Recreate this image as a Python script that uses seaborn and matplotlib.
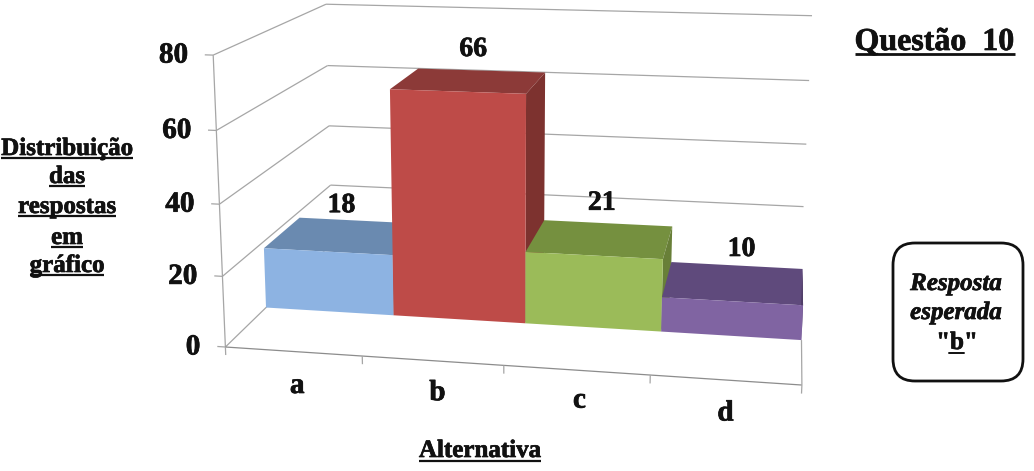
import numpy as np
import matplotlib
matplotlib.use("Agg")
import matplotlib.pyplot as plt
import matplotlib.patheffects as pe
from matplotlib.patches import FancyBboxPatch
from matplotlib.transforms import Transform
import seaborn as sns

# Dados do grafico
alternativas = ["a", "b", "c", "d"]
respostas = [18, 66, 21, 10]
valores_eixo = [0, 20, 40, 60, 80]
linhas_titulo_y = ["Distribuição", "das", "respostas", "em", "gráfico"]

# Cores das faces de cada barra
cor_frente = ["#8DB3E2", "#BE4B48", "#9BBB59", "#8064A2"]
cor_topo = ["#6A8AB0", "#8C3A38", "#75903F", "#5F4A7C"]
cor_lado = ["#587595", "#7D322F", "#687F38", "#4F3D67"]

LARGURA, ALTURA = 1034, 471
COR_GRADE = "#A6A6A6"

# Profundidades: 0 = borda do piso, 1 = frente das barras, 2 = fundo das barras, 3 = parede
D_PISO, D_FRENTE, D_FUNDO, D_PAREDE = 0, 1, 2, 3

# Pontos de referencia (x, valor, profundidade) -> pixel, usados so para ajustar a camera
camera_mundo = np.array([
    (0, 0, 0), (4, 0, 0), (0, 20, 0), (0, 40, 0), (0, 60, 0), (0, 80, 0),
    (0, 0, 3), (0, 20, 3), (0, 40, 3), (0, 60, 3), (0, 80, 3),
    (4, 20, 3), (4, 40, 3), (4, 60, 3), (4, 80, 3),
    (0, 0, 1), (1, 0, 1), (2, 0, 1), (3, 0, 1), (4, 0, 1),
    (0, 18, 1), (1, 66, 1), (2, 66, 1), (3, 21, 1), (4, 10, 1),
    (0, 18, 2), (1, 66, 2), (2, 66, 2), (3, 21, 2), (4, 10, 2),
], dtype=float)
camera_pixel = np.array([
    (229, 344), (803, 381), (225, 273), (222, 202), (217, 128), (213, 53),
    (333, 245), (331, 185), (329, 126), (326, 66), (324, 5),
    (802, 207), (806, 145), (809, 82), (813, 17),
    (263, 309), (392, 316), (525, 325), (661, 333), (802, 342),
    (262, 251), (387, 91), (525, 96), (663, 261), (803, 307),
    (303, 215), (420, 68), (547, 71), (673, 223), (802, 264),
], dtype=float)
# os pontos das barras pesam um pouco mais no ajuste
camera_peso = np.array([1.0] * 15 + [1.5] * 15)


def ajustar_camera(mundo, pixel, peso):
    linhas = []
    for (x, v, d), (u, w), k in zip(mundo, pixel, peso):
        h = [x, v / 20, d, 1]
        u, w = u / 500, w / 500
        linhas.append([k * c for c in h + [0, 0, 0, 0] + [-u * c for c in h]])
        linhas.append([k * c for c in [0, 0, 0, 0] + h + [-w * c for c in h]])
    return np.linalg.svd(np.array(linhas))[2][-1].reshape(3, 4)


P = ajustar_camera(camera_mundo, camera_pixel, camera_peso)


def projetar(x, v, d):
    x, v = np.asarray(x, float), np.asarray(v, float)
    h = np.stack([x, v / 20, np.full_like(x, d), np.ones_like(x)])
    s = P @ h
    return 500 * s[0] / s[2], 500 * s[1] / s[2]


def ponto(x, v, d):
    px, py = projetar([x], [v], d)
    return px[0], py[0]


class Perspectiva(Transform):
    # leva (categoria, valor) do seaborn para o pixel, num plano de profundidade fixa
    input_dims = 2
    output_dims = 2

    def __init__(self, d):
        super().__init__()
        self.d = d

    def transform_non_affine(self, values):
        values = np.asarray(values, float)
        px, py = projetar(values[:, 0] + 0.5, values[:, 1], self.d)
        return np.column_stack([px, py])


sns.set_theme(style="white", font="Liberation Serif")
fig = plt.figure(figsize=(LARGURA / 100, ALTURA / 100), dpi=100)
ax = fig.add_axes([0, 0, 1, 1])

sns.barplot(x=alternativas, y=respostas, hue=alternativas, palette=cor_frente,
            width=1, saturation=1, legend=False, ax=ax)

ax.set_xlim(0, LARGURA)
ax.set_ylim(ALTURA, 0)
ax.axis("off")


def linha(a, b, **kw):
    kw.setdefault("color", COR_GRADE)
    kw.setdefault("lw", 0.9)
    kw.setdefault("zorder", 1)
    ax.plot([a[0], b[0]], [a[1], b[1]], solid_capstyle="butt", **kw)


# Paredes, grade e marcas dos eixos
for v in valores_eixo:
    linha(ponto(0, v, D_PISO), ponto(0, v, D_PAREDE))
    if v > 0:
        linha(ponto(0, v, D_PAREDE), ponto(4, v, D_PAREDE))
    linha(ponto(-0.06, v, D_PISO), ponto(0, v, D_PISO))
    px, py = ponto(0, v, D_PISO)
    ax.text(px - 25, py, str(v), ha="right", va="center", fontsize=21,
            fontweight="bold", color="#111111")

linha(ponto(0, 0, D_PISO), ponto(0, 80, D_PISO))
linha(ponto(0, 0, D_PISO), ponto(4, 0, D_PISO), color="#8C8C8C")
linha(ponto(4, 0, D_PISO), ponto(4, 0, D_FRENTE))
for i in range(5):
    linha(ponto(i, 0, D_PISO), ponto(i, -2.3, D_PISO))

# Barras: a frente vem do seaborn, topo e lado saem da geometria de cada barra
for i, barra in enumerate(ax.patches):
    x0 = barra.get_x() + 0.5
    x1 = x0 + barra.get_width()
    h = barra.get_height()
    base = 3 + i * 3

    barra.set_transform(Perspectiva(D_FRENTE) + ax.transData)
    barra.set_linewidth(0)
    barra.set_clip_on(False)
    barra.set_zorder(base + 2)

    xs, ys = projetar([x0, x1, x1, x0], [h, h, h, h], D_FRENTE)
    xf, yf = projetar([x1, x0], [h, h], D_FUNDO)
    ax.fill([xs[0], xs[1], xf[0], xf[1]], [ys[0], ys[1], yf[0], yf[1]],
            color=cor_topo[i], lw=0, zorder=base)

    xa, ya = projetar([x1, x1], [h, 0], D_FRENTE)
    xb, yb = projetar([x1, x1], [0, h], D_FUNDO)
    ax.fill([xa[0], xa[1], xb[0], xb[1]], [ya[0], ya[1], yb[0], yb[1]],
            color=cor_lado[i], lw=0, zorder=base + 1)

# Rotulos de valor, sobre o fundo do topo de cada barra
desvio_rotulo = [(-18, -15), (-8, -21), (-6, -20), (5, -16)]
for i, valor in enumerate(respostas):
    px, py = ponto(i + 0.5, valor, D_FUNDO)
    ax.text(px + desvio_rotulo[i][0], py + desvio_rotulo[i][1], str(valor),
            ha="center", va="center", fontsize=20, fontweight="bold",
            color="#111111", zorder=30)

# Rotulos das categorias
desvio_categoria = [(4, 34), (5, 32), (3, 30), (0, 33)]
for i, nome in enumerate(alternativas):
    px, py = ponto(i + 0.5, 0, D_PISO)
    ax.text(px + desvio_categoria[i][0], py + desvio_categoria[i][1], nome,
            ha="center", va="center", fontsize=21, fontweight="bold", color="#111111")


def sublinhado(x, y, texto, tamanho, folga=3, grossura=1.6):
    t = ax.text(x, y, texto, ha="center", va="baseline", fontsize=tamanho,
                fontweight="bold", color="#111111")
    caixa = t.get_window_extent(fig.canvas.get_renderer())
    ax.plot([caixa.x0, caixa.x1], [y + folga, y + folga], color="#111111",
            lw=grossura, solid_capstyle="butt")


# Titulo do eixo y, linha a linha
base_y = [155, 183, 213, 244, 272]
for nome, y in zip(linhas_titulo_y, base_y):
    sublinhado(67, y, nome, 18)

sublinhado(480, 457, "Alternativa", 18, folga=4)
sublinhado(934.5, 50, "Questão  10", 23, folga=4, grossura=2)

# Caixa da resposta esperada
caixa = FancyBboxPatch((915, 265), 86, 94, boxstyle="round,pad=22,rounding_size=22",
                       fc="white", ec="#111111", lw=2, zorder=2)
ax.add_patch(caixa)
ax.text(956, 290, "Resposta", ha="center", va="baseline", fontsize=18,
        style="italic", fontweight="bold", color="#111111", zorder=3)
ax.text(956, 319, "esperada", ha="center", va="baseline", fontsize=18,
        style="italic", fontweight="bold", color="#111111", zorder=3)
ax.text(957, 349, '"b"', ha="center", va="baseline", fontsize=18,
        fontweight="bold", color="#111111", zorder=3)
ax.plot([949, 964], [353, 353], color="#111111", lw=1.4, zorder=3)

# Texto um pouco mais cheio, como no original
for t in ax.texts:
    t.set_path_effects([pe.withStroke(linewidth=0.5, foreground="#111111")])

fig.savefig("out.png", dpi=100)
